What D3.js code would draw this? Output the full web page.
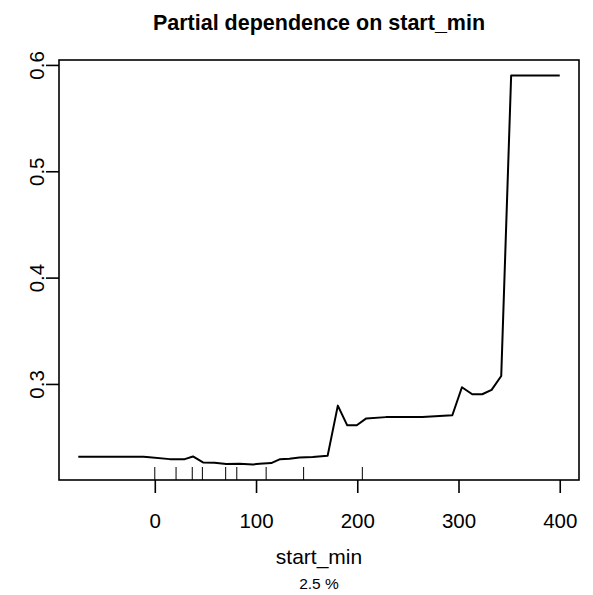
<!DOCTYPE html>
<html>
<head>
<meta charset="utf-8">
<script src="https://cdn.jsdelivr.net/npm/d3@7"></script>
<style>
  html, body { margin: 0; padding: 0; background: #fff; }
  svg { display: block; font-family: "Liberation Sans", Arial, Helvetica, sans-serif; }
</style>
</head>
<body>
<svg id="chart" width="593" height="595"></svg>
<script>
// ---- data ----
const startMin = [-75.6, -11.5, -7.9, 14.8, 29.6, 37.7, 47.6, 59.1, 70.6, 83.7, 96.8, 103.4, 115, 123.8, 133, 142.9, 156, 170.7, 180.8, 190.1, 199.5, 208.9, 228.3, 264.3, 293.9, 303.4, 313.6, 323.4, 332.7, 342.2, 352, 400];
const partialDep = [0.2315, 0.2315, 0.2313, 0.2293, 0.2293, 0.2318, 0.2262, 0.2259, 0.2247, 0.2249, 0.2243, 0.2249, 0.2256, 0.2293, 0.2296, 0.2308, 0.2312, 0.2324, 0.2796, 0.2611, 0.2611, 0.2676, 0.2688, 0.2690, 0.2706, 0.2969, 0.2903, 0.2903, 0.2944, 0.3075, 0.5900, 0.5900];
const rugDeciles = [0, 21, 37, 47, 70, 81, 110, 147, 205];
const xTicks = [0, 100, 200, 300, 400];
const yTicks = [0.3, 0.4, 0.5, 0.6];
const titleText = "Partial dependence on start_min";
const xLabel = "start_min";
const subLabel = "2.5 %";

// ---- layout ----
const svg = d3.select("#chart");
const mLeft = 59, mRight = 579, mTop = 60, mBottom = 480;

function ext(a) {
  const [lo, hi] = d3.extent(a);
  const d = (hi - lo) * 0.04;
  return [lo - d, hi + d];
}
const x = d3.scaleLinear().domain(ext(startMin)).range([mLeft, mRight]);
const y = d3.scaleLinear().domain(ext(partialDep)).range([mBottom, mTop]);

svg.append("rect").attr("width", 593).attr("height", 595).attr("fill", "#fff");

// line
const pts = startMin.map((v, i) => [v, partialDep[i]]);
svg.append("path")
  .datum(pts)
  .attr("fill", "none")
  .attr("stroke", "#000")
  .attr("stroke-width", 2)
  .attr("stroke-linejoin", "round")
  .attr("d", d3.line().x(d => x(d[0])).y(d => y(d[1])));

// rug
svg.append("g").selectAll("line").data(rugDeciles).join("line")
  .attr("x1", d => x(d)).attr("x2", d => x(d))
  .attr("y1", mBottom).attr("y2", mBottom - 13)
  .attr("stroke", "#000").attr("stroke-width", 1);

// box
svg.append("rect")
  .attr("x", mLeft).attr("y", mTop)
  .attr("width", mRight - mLeft).attr("height", mBottom - mTop)
  .attr("fill", "none").attr("stroke", "#000").attr("stroke-width", 1.6);

// x axis
const gx = svg.append("g").attr("transform", `translate(0,${mBottom})`)
  .call(d3.axisBottom(x).tickValues(xTicks).tickFormat(d3.format("d")).tickSize(13).tickSizeOuter(0).tickPadding(20));
gx.select(".domain").remove();
gx.selectAll(".tick line").attr("stroke", "#000").attr("stroke-width", 1.6);
gx.selectAll(".tick text").attr("font-size", 20.5).attr("fill", "#000")
  .attr("font-family", "Liberation Sans, Arial, sans-serif");

// y axis
const gy = svg.append("g").attr("transform", `translate(${mLeft},0)`)
  .call(d3.axisLeft(y).tickValues(yTicks).tickFormat(d3.format(".1f")).tickSize(13).tickSizeOuter(0));
gy.select(".domain").remove();
gy.selectAll(".tick line").attr("stroke", "#000").attr("stroke-width", 1.6);
gy.selectAll(".tick text")
  .attr("font-size", 20.5).attr("fill", "#000")
  .attr("font-family", "Liberation Sans, Arial, sans-serif")
  .attr("text-anchor", "middle")
  .attr("x", 0).attr("y", -15).attr("dy", null)
  .attr("transform", "rotate(-90)");

// title
svg.append("text")
  .attr("x", (mLeft + mRight) / 2).attr("y", 29.5)
  .attr("text-anchor", "middle")
  .attr("font-weight", "bold").attr("font-size", 21.5)
  .text(titleText);

// x label
svg.append("text")
  .attr("x", (mLeft + mRight) / 2).attr("y", 564)
  .attr("text-anchor", "middle").attr("font-size", 21)
  .text(xLabel);

svg.append("text")
  .attr("x", (mLeft + mRight) / 2).attr("y", 589)
  .attr("text-anchor", "middle").attr("font-size", 15.5)
  .text(subLabel);
</script>
</body>
</html>
